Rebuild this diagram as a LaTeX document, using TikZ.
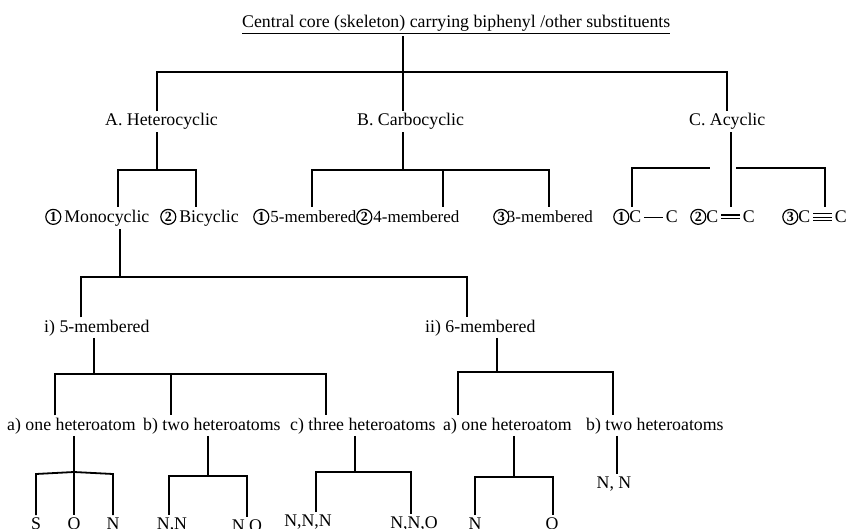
\documentclass[tikz,border=0pt]{standalone}
\usepackage{fontspec}
\setmainfont{Liberation Serif}
\usetikzlibrary{positioning}

\tikzset{
  lbl/.style={anchor=base west, inner xsep=0pt, inner ysep=2pt, font=\fontsize{17.8}{21}\selectfont},
  ringlbl/.style={lbl, font=\fontsize{17}{20}\selectfont},
  leaf/.style={anchor=base, inner xsep=0pt, inner ysep=2pt, font=\fontsize{17.8}{21}\selectfont},
  tree/.style={line width=1.8pt}
}

% circled numbers and bonds
\newcommand\cnum[1]{\tikz[baseline={([yshift=-1.5pt]n.base)}]\node[circle, draw, line width=1.2pt, inner sep=0pt, minimum size=15pt, font=\bfseries\fontsize{14}{14}\selectfont] (n) {#1};}
\newcommand\sbond{\rule[0.3em]{1.05em}{1.1pt}}
\newcommand\dbond{\rule[0.2em]{1.05em}{1.1pt}\llap{\rule[0.42em]{1.05em}{1.1pt}}}
\newcommand\tbond{\rule[0.12em]{1.05em}{1.1pt}\llap{\rule[0.3em]{1.05em}{1.1pt}}\llap{\rule[0.48em]{1.05em}{1.1pt}}}

\begin{document}
\begin{tikzpicture}[x=1pt, y=-1pt]
\useasboundingbox (0,0) rectangle (853,529);

% root
\node[lbl] (core) at (242,28) {\underline{Central core (skeleton) carrying biphenyl /other substituents}};

% classes
\node[lbl] (hetA) at (105,126) {A. Heterocyclic};
\node[lbl] (carbB) at (357,126) {B. Carbocyclic};
\node[lbl] (acyC) at (689,126) {C. Acyclic};

\draw[tree] (403,0 |- core.south) -- (403,0 |- carbB.north);
\draw[tree] (157,0 |- hetA.north) |- (727,72) -- (727,0 |- acyC.north);

% sub classes
\node[lbl] (mono) at (45,223) {\cnum{1}\,Monocyclic};
\node[lbl] (bic) at (160,223) {\cnum{2}\,Bicyclic};
\node[ringlbl] (ring5) at (253,223) {\cnum{1}\kern1pt5-membered};
\node[ringlbl] (ring4) at (356,223) {\cnum{2}\kern1pt4-membered};
\node[ringlbl] (ring3) at (493,223) {\cnum{3}\kern-2.5pt3-membered};
\node[lbl] (single) at (613,223) {\cnum{1}C\,\sbond\,C};
\node[lbl] (double) at (690,223) {\cnum{2}C\,\dbond\,C};
\node[lbl] (triple) at (782,223) {\cnum{3}C\,\tbond\,C};

\draw[tree] (157,0 |- hetA.south) -- (157,170);
\draw[tree] (118,0 |- mono.north) |- (196,170) -- (196,0 |- bic.north);
\draw[tree] (403,0 |- carbB.south) -- (403,170);
\draw[tree] (312,0 |- ring5.north) |- (549,170) -- (549,0 |- ring3.north);
\draw[tree] (443,170) -- (443,0 |- ring4.north);
\draw[tree] (632,0 |- single.north) |- (710,168);
\draw[tree] (736,168) -| (825,0 |- triple.north);
\draw[tree] (731,0 |- acyC.south) -- (731,0 |- double.north);

% ring size
\node[lbl] (memb5) at (44,332) {i) 5-membered};
\node[lbl] (memb6) at (425,332) {ii) 6-membered};

\draw[tree] (120,0 |- mono.south) -- (120,277);
\draw[tree] (81,0 |- memb5.north) |- (467,277) -- (467,0 |- memb6.north);

% heteroatoms
\node[lbl] (oneA) at (7,430) {a) one heteroatom};
\node[lbl] (twoA) at (143,430) {b) two heteroatoms};
\node[lbl] (threeA) at (290,430) {c) three heteroatoms};
\node[lbl] (oneB) at (443,430) {a) one heteroatom};
\node[lbl] (twoB) at (586,430) {b) two heteroatoms};

\draw[tree] (94,0 |- memb5.south) -- (94,374);
\draw[tree] (55,0 |- oneA.north) |- (326,374) -- (326,0 |- threeA.north);
\draw[tree] (171,374) -- (171,0 |- twoA.north);
\draw[tree] (497,0 |- memb6.south) -- (497,372);
\draw[tree] (458,0 |- oneB.north) |- (613,372) -- (613,0 |- twoB.north);

% atoms
\node[leaf] (atS) at (36,529) {S};
\node[leaf] (atO) at (74,529) {O};
\node[leaf] (atN) at (113,529) {N};
\node[leaf] (atNN) at (172,529) {N,N};
\node[leaf] (atNO) at (247,531) {N,O};
\node[leaf] (atNNN) at (308,526) {N,N,N};
\node[leaf] (atNNO) at (414,528) {N,N,O};
\node[leaf] (atN6) at (475,529) {N};
\node[leaf] (atO6) at (552,529) {O};
\node[leaf] (atNN6) at (614,488) {N, N};

\draw[tree] (74,0 |- oneA.south) -- (74,0 |- atO.north);
\draw[tree] (36,0 |- atS.north) -- (36,474) -- (74,472) -- (113,474) -- (113,0 |- atN.north);
\draw[tree] (208,0 |- twoA.south) -- (208,476);
\draw[tree] (169,0 |- atNN.north) |- (247,476) -- (247,0 |- atNO.north);
\draw[tree] (355,0 |- threeA.south) -- (355,472);
\draw[tree] (316,0 |- atNNN.north) |- (411,472) -- (411,0 |- atNNO.north);
\draw[tree] (514,0 |- oneB.south) -- (514,477);
\draw[tree] (475,0 |- atN6.north) |- (553,477) -- (553,0 |- atO6.north);
\draw[tree] (617,0 |- twoB.south) -- (617,0 |- atNN6.north);

\end{tikzpicture}
\end{document}
